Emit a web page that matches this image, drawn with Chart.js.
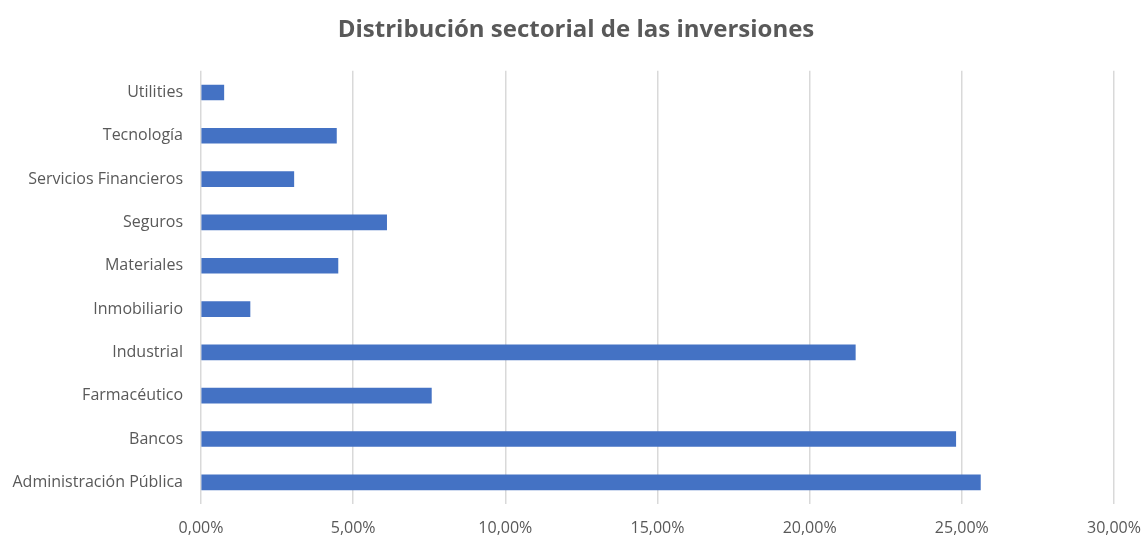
<!DOCTYPE html>
<html>
<head>
<meta charset="utf-8">
<script src="https://cdn.jsdelivr.net/npm/chart.js@4"></script>
<style>
  html, body { margin: 0; padding: 0; background: #fff; }
  #wrap { width: 1144px; height: 536px; }
</style>
</head>
<body>
<div id="wrap"><canvas id="sector-chart" width="1144" height="536"></canvas></div>
<script>
'use strict'
// datos (orden de abajo hacia arriba, como en Excel)
const sectores = [
  "Administración Pública",
  "Bancos",
  "Farmacéutico",
  "Industrial",
  "Inmobiliario",
  "Materiales",
  "Seguros",
  "Servicios Financieros",
  "Tecnología",
  "Utilities",
];
const pesos = [25.61, 24.80, 7.57, 21.50, 1.61, 4.50, 6.10, 3.05, 4.45, 0.75];
const ejeMin = 0;
const ejeMax = 30;
const ejePaso = 5;

const gris = "#595959";
const fuente = "'Open Sans', sans-serif";

var context = document.querySelector("#sector-chart").getContext("2d");
new Chart(context, {
  type: "bar",
  data: {
    labels: sectores,
    datasets: [
      {
        label: "Peso",
        data: pesos,
        backgroundColor: "#4472C4",
        barThickness: 15,
      },
    ],
  },
  options: {
    responsive: false,
    animation: false,
    indexAxis: "y",
    layout: {
      padding: { left: 8, right: 0, top: 8, bottom: 0 },
    },
    plugins: {
      legend: { display: false },
      tooltip: { enabled: false },
      title: {
        display: true,
        text: "Distribución sectorial de las inversiones",
        color: gris,
        font: { family: fuente, size: 24, weight: "bold" },
        padding: { top: 8, bottom: 26 },
      },
    },
    scales: {
      x: {
        min: ejeMin,
        max: ejeMax,
        ticks: {
          stepSize: ejePaso,
          color: gris,
          font: { family: fuente, size: 16 },
          padding: 15,
          maxRotation: 0,
          callback: function (value) {
            return value.toFixed(2).replace(".", ",") + "%";
          },
        },
        grid: { color: "#d9d9d9", lineWidth: 1.5, drawTicks: false },
        border: { display: false },
        afterFit: function (scale) {
          scale.height = 32;
          scale.paddingRight = 30;
        },
      },
      y: {
        reverse: true,
        ticks: {
          color: gris,
          font: { family: fuente, size: 16 },
          padding: 10,
          autoSkip: false,
        },
        grid: { display: false },
        border: { display: false },
        afterFit: function (scale) {
          scale.width = 193;
        },
      },
    },
  },
});
</script>
</body>
</html>
